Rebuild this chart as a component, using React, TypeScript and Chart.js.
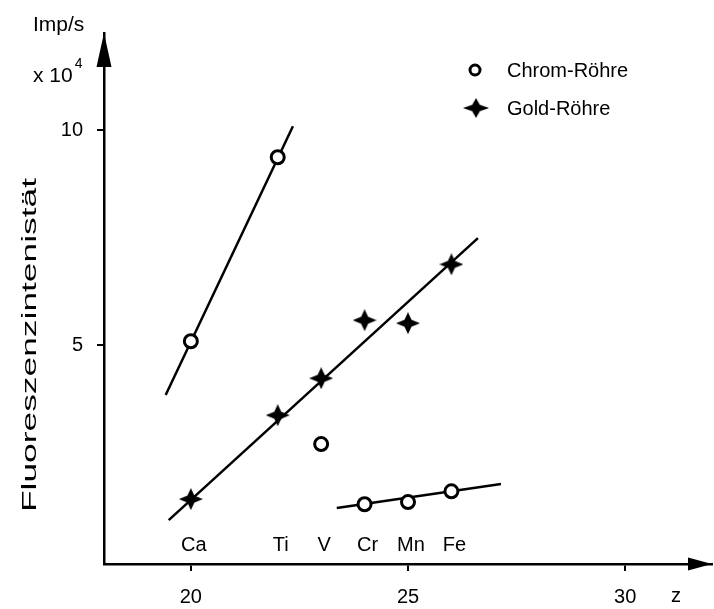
import React, { useEffect, useRef } from "react";
import { Chart, registerables } from "chart.js";

Chart.register(...registerables);

// ---- data ----
const elementNames = ["Ca", "Ti", "V", "Cr", "Mn", "Fe"];
const atomicNumbers = [20, 22, 23, 24, 25, 26];
const chromIntensity = [5.09, 9.37, 2.7, 1.3, 1.35, 1.6];
const goldIntensity = [1.42, 3.37, 4.23, 5.58, 5.51, 6.88];

// fitted lines (endpoints as drawn)
const chromSteepLineZ = [19.42, 22.35];
const chromSteepLineY = [3.84, 10.09];
const goldLineZ = [19.49, 26.61];
const goldLineY = [0.93, 7.49];
const chromFlatLineZ = [23.36, 27.14];
const chromFlatLineY = [1.21, 1.77];

const xTickValues = [20, 25, 30];
const yTickValues = [5, 10];

const seriesLabels = ["Chrom-Röhre", "Gold-Röhre"];
const yTitle = "Fluoreszenzintenistät";
const unitLabel = "Imp/s";
const scaleLabel = "x 10";
const scaleExp = "4";
const xTitle = "z";

const FONT = "'Liberation Sans', Arial, sans-serif";

function makeStar(w: number, h: number, inner: number) {
  const c = document.createElement("canvas");
  c.width = w;
  c.height = h;
  const ctx = c.getContext("2d")!;
  const cx = w / 2,
    cy = h / 2;
  ctx.fillStyle = "#000";
  ctx.beginPath();
  ctx.moveTo(w, cy);
  ctx.lineTo(cx + inner, cy - inner);
  ctx.lineTo(cx, 0);
  ctx.lineTo(cx - inner, cy - inner);
  ctx.lineTo(0, cy);
  ctx.lineTo(cx - inner, cy + inner);
  ctx.lineTo(cx, h);
  ctx.lineTo(cx + inner, cy + inner);
  ctx.closePath();
  ctx.fill();
  return c;
}

const pts = (xs: number[], ys: number[]) => xs.map((x, i) => ({ x, y: ys[i] }));

export default function App() {
  const ref = useRef<HTMLCanvasElement | null>(null);

  useEffect(() => {
    const star = makeStar(24, 22, 3.5);
    const decor = {
      id: "decor",
      afterDraw(chart: any) {
        const { ctx, chartArea, scales } = chart;
        const xs = scales.x;
        ctx.save();
        ctx.fillStyle = "#000";
        // arrowheads
        ctx.beginPath();
        ctx.moveTo(chartArea.left, chartArea.top);
        ctx.lineTo(chartArea.left - 7.5, chartArea.top + 34);
        ctx.lineTo(chartArea.left + 7.5, chartArea.top + 34);
        ctx.closePath();
        ctx.fill();
        ctx.beginPath();
        ctx.moveTo(chartArea.right, chartArea.bottom);
        ctx.lineTo(chartArea.right - 24, chartArea.bottom - 6.5);
        ctx.lineTo(chartArea.right - 24, chartArea.bottom + 6.5);
        ctx.closePath();
        ctx.fill();

        // element labels
        ctx.font = `20px ${FONT}`;
        ctx.textAlign = "center";
        ctx.textBaseline = "middle";
        elementNames.forEach((n, i) => {
          ctx.fillText(n, xs.getPixelForValue(atomicNumbers[i]) + 3, chartArea.bottom - 19);
        });
        // x title
        ctx.fillText(xTitle, 676, 596);

        // unit labels
        ctx.textAlign = "left";
        ctx.font = `21px ${FONT}`;
        ctx.fillText(unitLabel, 33, 25);
        ctx.fillText(scaleLabel, 33, 76);
        const w = ctx.measureText(scaleLabel).width;
        ctx.font = `14px ${FONT}`;
        ctx.fillText(scaleExp, 33 + w + 2, 64);

        // y title
        ctx.font = `20px ${FONT}`;
        ctx.save();
        ctx.translate(30, 345);
        ctx.rotate(-Math.PI / 2);
        ctx.textAlign = "center";
        const tw = ctx.measureText(yTitle).width;
        ctx.scale(334 / tw, 1);
        ctx.fillText(yTitle, 0, 0);
        ctx.restore();

        // legend
        ctx.font = `20px ${FONT}`;
        ctx.textAlign = "left";
        ctx.lineWidth = 3;
        ctx.strokeStyle = "#000";
        ctx.fillStyle = "#fff";
        ctx.beginPath();
        ctx.arc(475, 70, 5, 0, Math.PI * 2);
        ctx.fill();
        ctx.stroke();
        ctx.fillStyle = "#000";
        ctx.fillText(seriesLabels[0], 507, 71);
        ctx.drawImage(star, 476 - 13, 108 - 10, 26, 20);
        ctx.fillText(seriesLabels[1], 507, 109);
        ctx.restore();
      },
    };

    const chart = new Chart(ref.current!, {
      type: "scatter",
      data: {
        datasets: [
          {
            label: seriesLabels[0],
            data: pts(atomicNumbers, chromIntensity),
            pointStyle: "circle",
            pointRadius: 6.5,
            pointBorderWidth: 3,
            pointBackgroundColor: "#fff",
            pointBorderColor: "#000",
            showLine: false,
            order: 1,
          },
          {
            label: seriesLabels[1],
            data: pts(atomicNumbers, goldIntensity),
            pointStyle: star as any,
            pointRadius: 11,
            showLine: false,
            order: 0,
          },
          {
            label: "fit1",
            data: pts(chromSteepLineZ, chromSteepLineY),
            showLine: true,
            borderColor: "#000",
            borderWidth: 2.5,
            pointRadius: 0,
            order: 5,
          },
          {
            label: "fit2",
            data: pts(goldLineZ, goldLineY),
            showLine: true,
            borderColor: "#000",
            borderWidth: 2.5,
            pointRadius: 0,
            order: 5,
          },
          {
            label: "fit3",
            data: pts(chromFlatLineZ, chromFlatLineY),
            showLine: true,
            borderColor: "#000",
            borderWidth: 2.5,
            pointRadius: 0,
            order: 5,
          },
        ],
      },
      options: {
        responsive: false,
        animation: false,
        devicePixelRatio: 1,
        layout: { autoPadding: false, padding: { top: 33, right: 2, left: 0, bottom: 0 } },
        plugins: { legend: { display: false }, tooltip: { enabled: false } },
        scales: {
          x: {
            type: "linear",
            min: 18,
            max: 32,
            afterFit: (s: any) => {
              s.height = 45;
              s.paddingLeft = 0;
              s.paddingRight = 0;
            },
            afterBuildTicks: (s: any) => {
              s.ticks = xTickValues.map((v) => ({ value: v }));
            },
            grid: {
              drawOnChartArea: false,
              drawTicks: true,
              tickLength: 7,
              color: "#000",
              lineWidth: 2,
            },
            border: { display: true, color: "#000", width: 2.5 },
            ticks: {
              color: "#000",
              font: { family: FONT, size: 20 },
              padding: 14,
              maxRotation: 0,
            },
          },
          y: {
            type: "linear",
            min: -0.09,
            max: 12.26,
            afterFit: (s: any) => {
              s.width = 104;
              s.paddingTop = 0;
              s.paddingBottom = 0;
            },
            afterBuildTicks: (s: any) => {
              s.ticks = yTickValues.map((v) => ({ value: v }));
            },
            grid: {
              drawOnChartArea: false,
              drawTicks: true,
              tickLength: 7,
              color: "#000",
              lineWidth: 2,
            },
            border: { display: true, color: "#000", width: 2.5 },
            ticks: {
              color: "#000",
              font: { family: FONT, size: 20 },
              padding: 14,
            },
          },
        },
      },
      plugins: [decor],
    });
    return () => chart.destroy();
  }, []);

  return (
    <div style={{ position: "absolute", left: 0, top: 0, width: 714, height: 609, background: "#fff" }}>
      <canvas ref={ref} width={714} height={609} />
    </div>
  );
}
